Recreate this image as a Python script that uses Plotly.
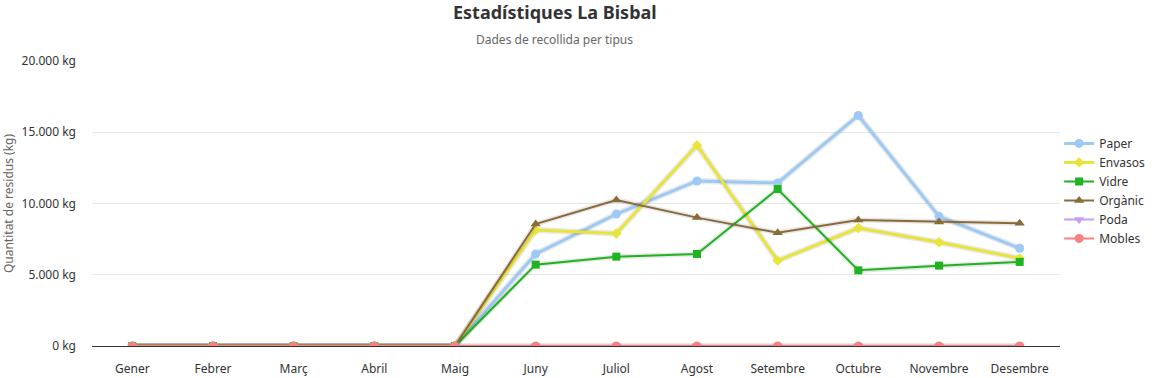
import plotly.graph_objects as go

months = ["Gener", "Febrer", "Març", "Abril", "Maig", "Juny", "Juliol",
          "Agost", "Setembre", "Octubre", "Novembre", "Desembre"]

paper = [0, 0, 0, 0, 0, 6460, 9260, 11580, 11440, 16180, 9100, 6860]
envasos = [0, 0, 0, 0, 0, 8140, 7900, 14080, 5990, 8280, 7280, 6150]
vidre = [0, 0, 0, 0, 0, 5710, 6270, 6460, 11020, 5310, 5640, 5900]
organic = [0, 0, 0, 0, 0, 8560, 10250, 9010, 7950, 8840, 8700, 8610]
poda = [0, 0, 0, 0, 0, 0, 0, 0, 0, 0, 0, 0]
mobles = [0, 0, 0, 0, 0, 0, 0, 0, 0, 0, 0, 0]

ytick_vals = [0, 5000, 10000, 15000, 20000]
ytick_text = [f"{v:,}".replace(",", ".") + " kg" for v in ytick_vals]

series = [
    ("Paper", paper, "#9ccaf5", "circle", 9, 3),
    ("Envasos", envasos, "#e8e43a", "diamond", 8, 3),
    ("Vidre", vidre, "#1fb31f", "square", 8, 2),
    ("Orgànic", organic, "#8b6a3a", "triangle-up", 9, 2),
    ("Poda", poda, "#c49ef7", "triangle-down", 9, 2),
    ("Mobles", mobles, "#f78080", "circle", 9, 2),
]

fig = go.Figure()
for name, vals, col, sym, ms, lw in series:
    # soft shadow under each line
    fig.add_trace(go.Scatter(
        x=months, y=vals, mode="lines", showlegend=False, hoverinfo="skip",
        line=dict(color="rgba(0,0,0,0.09)", width=lw + 3),
    ))
    fig.add_trace(go.Scatter(
        x=months, y=vals, mode="lines+markers", name=name,
        line=dict(color=col, width=lw),
        marker=dict(symbol=sym, size=ms, color=col),
    ))

font = "Noto Sans, Open Sans, sans-serif"
fig.update_layout(
    width=1155, height=378,
    margin=dict(l=92, r=95, t=61, b=32, autoexpand=False),
    paper_bgcolor="white", plot_bgcolor="white",
    font=dict(family=font, size=12, color="#333333"),
    showlegend=True,
    legend=dict(xref="container", yref="container", x=0.917, y=0.659,
                xanchor="left", yanchor="top",
                font=dict(size=12, color="#333333"), tracegroupgap=0,
                itemwidth=30, bgcolor="rgba(0,0,0,0)"),
    xaxis=dict(type="category", range=[-0.5, 11.5], showgrid=False,
               showline=False, ticks="", zeroline=False, automargin=False,
               ticklabelstandoff=14,
               tickfont=dict(size=12, color="#333333")),
    yaxis=dict(range=[0, 20000], tickmode="array", tickvals=ytick_vals,
               ticktext=ytick_text, automargin=False,
               showgrid=True, gridcolor="#e6e6e6", gridwidth=1,
               zeroline=True, zerolinecolor="#333333", zerolinewidth=1,
               ticklabelstandoff=15,
               tickfont=dict(size=12, color="#333333"),
               title=dict(text="Quantitat de residus (kg)",
                          font=dict(size=12, color="#666666"), standoff=6)),
    annotations=[
        dict(text="<b>Estadístiques La Bisbal</b>", xref="paper", yref="paper",
             x=0.478, y=1.0, yshift=49, showarrow=False, xanchor="center",
             yanchor="middle", font=dict(size=18, color="#333333", family=font)),
        dict(text="Dades de recollida per tipus", xref="paper", yref="paper",
             x=0.478, y=1.0, yshift=22, showarrow=False, xanchor="center",
             yanchor="middle", font=dict(size=12, color="#666666", family=font)),
    ],
)

fig.write_html("out.html", config={"displayModeBar": False},
               post_script="document.body.style.margin='0';document.body.style.overflow='hidden';")
